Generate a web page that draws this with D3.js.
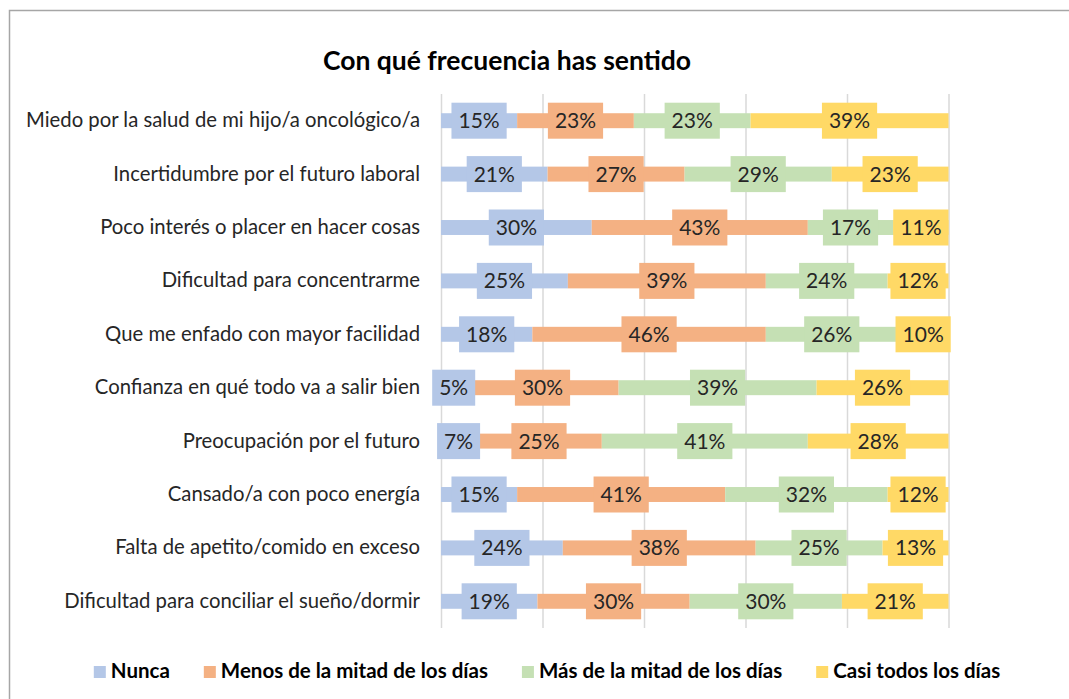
<!DOCTYPE html>
<html>
<head>
<meta charset="utf-8">
<script src="https://cdn.jsdelivr.net/npm/d3@7"></script>
<style>
  html, body { margin: 0; padding: 0; background: #fff; }
  svg { display: block; }
</style>
</head>
<body>
<svg id="chart" width="1069" height="699"></svg>
<script>
const title = "Con qué frecuencia has sentido";
const categories = [
  "Miedo por la salud de mi hijo/a oncológico/a",
  "Incertidumbre por el futuro laboral",
  "Poco interés o placer en hacer cosas",
  "Dificultad para concentrarme",
  "Que me enfado con mayor facilidad",
  "Confianza en qué todo va a salir bien",
  "Preocupación por el futuro",
  "Cansado/a con poco energía",
  "Falta de apetito/comido en exceso",
  "Dificultad para conciliar el sueño/dormir"
];
const seriesNames = ["Nunca", "Menos de la mitad de los días", "Más de la mitad de los días", "Casi todos los días"];
const nunca = [15, 21, 30, 25, 18, 5, 7, 15, 24, 19];
const menos = [23, 27, 43, 39, 46, 30, 25, 41, 38, 30];
const mas   = [23, 29, 17, 24, 26, 39, 41, 32, 25, 30];
const casi  = [39, 23, 11, 12, 10, 26, 28, 12, 13, 21];
const seriesColors = ["#B4C7E7", "#F4B183", "#C5E0B4", "#FFD966"];
const gridTicks = [0, 0.2, 0.4, 0.6, 0.8, 1];

const seriesValues = [nunca, menos, mas, casi];
const keys = ["s0", "s1", "s2", "s3"];
const rows = categories.map((c, i) => {
  const r = { cat: c };
  keys.forEach((k, j) => r[k] = seriesValues[j][i]);
  return r;
});

const svg = d3.select("#chart");
const FONT = "Lato, 'Open Sans', sans-serif";

// outer chart border
svg.append("rect")
  .attr("x", 9.5).attr("y", 10.5)
  .attr("width", 1100).attr("height", 720)
  .attr("fill", "#fff").attr("stroke", "#a6a6a6").attr("stroke-width", 1.5);

const plotLeft = 441, plotRight = 948.5, plotTop = 94, plotBottom = 628;

const x = d3.scaleLinear().domain([0, 1]).range([plotLeft, plotRight]);
const y = d3.scaleBand().domain(categories).range([plotTop, plotBottom])
  .paddingInner(0.72).paddingOuter(0.36);

// title
svg.append("text")
  .attr("x", 507).attr("y", 70)
  .attr("text-anchor", "middle")
  .attr("font-family", FONT).attr("font-weight", "bold")
  .attr("font-size", 26.5).attr("fill", "#000")
  .text(title);

// gridlines
const grid = svg.append("g")
  .attr("transform", `translate(0,${plotBottom})`)
  .call(d3.axisBottom(x).tickValues(gridTicks).tickSize(-(plotBottom - plotTop)).tickFormat(""));
grid.select(".domain").remove();
grid.selectAll(".tick line").attr("stroke", "#d9d9d9").attr("stroke-width", 1.5);

// category axis
const yAxis = svg.append("g")
  .attr("transform", `translate(${plotLeft},0)`)
  .call(d3.axisLeft(y).tickSize(0).tickPadding(21));
yAxis.select(".domain").remove();
yAxis.selectAll(".tick text")
  .attr("font-family", FONT).attr("font-size", 20.3).attr("fill", "#262626");

// stacked bars
const stack = d3.stack().keys(keys).offset(d3.stackOffsetExpand);
const stacked = stack(rows);

const barLayer = svg.append("g");
stacked.forEach((layer, si) => {
  barLayer.append("g").attr("fill", seriesColors[si])
    .selectAll("rect").data(layer).join("rect")
    .attr("x", d => x(d[0]))
    .attr("y", d => y(d.data.cat))
    .attr("width", d => x(d[1]) - x(d[0]))
    .attr("height", y.bandwidth());
});

// data labels with filled boxes
const labelLayer = svg.append("g");
stacked.forEach((layer, si) => {
  layer.forEach(d => {
    const cx = x((d[0] + d[1]) / 2);
    const cy = y(d.data.cat) + y.bandwidth() / 2;
    const g = labelLayer.append("g").attr("transform", `translate(${cx},${cy})`);
    const rect = g.append("rect").attr("fill", seriesColors[si]);
    const t = g.append("text")
      .attr("text-anchor", "middle").attr("dy", "0.36em")
      .attr("font-family", FONT).attr("font-size", 21).attr("fill", "#262626")
      .text(d.data[keys[si]] + "%");
    const w = t.node().getComputedTextLength();
    const bw = w + 14, bh = 36;
    rect.attr("x", -bw / 2).attr("y", -bh / 2).attr("width", bw).attr("height", bh);
  });
});

// legend
const legend = svg.append("g");
let lx = 0;
seriesNames.forEach((name, i) => {
  const item = legend.append("g").attr("transform", `translate(${lx},0)`);
  item.append("rect").attr("x", 0).attr("y", -12).attr("width", 12).attr("height", 12)
    .attr("fill", seriesColors[i]);
  const t = item.append("text").attr("x", 17).attr("y", 0)
    .attr("font-family", FONT).attr("font-weight", "bold").attr("font-size", 20.5)
    .attr("fill", "#000").text(name);
  lx += 17 + t.node().getComputedTextLength() + 34;
});
const legendWidth = lx - 34;
legend.attr("transform", `translate(${547 - legendWidth / 2},678)`);
</script>
</body>
</html>
